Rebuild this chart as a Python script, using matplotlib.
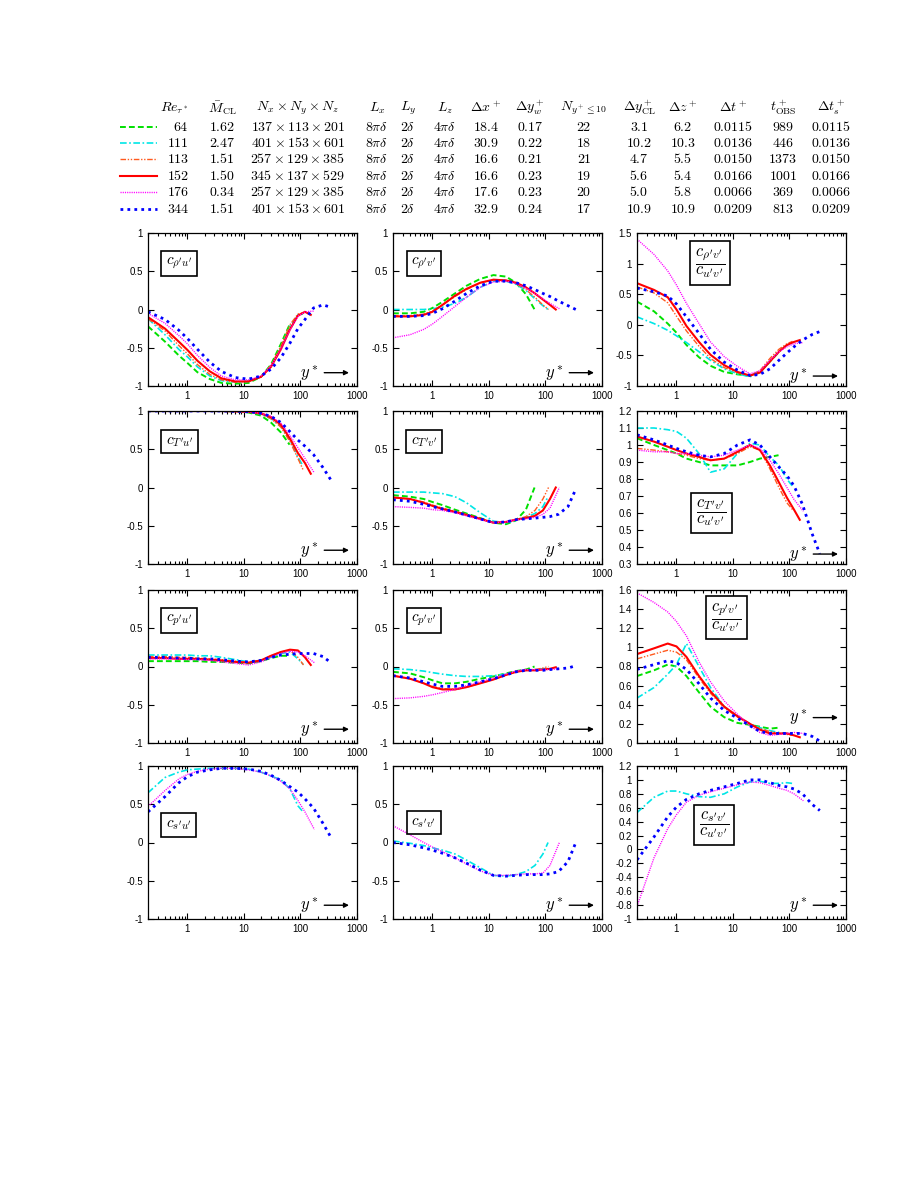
import matplotlib
matplotlib.use('Agg')
import matplotlib.pyplot as plt
from matplotlib.ticker import FuncFormatter, MultipleLocator, LogLocator, NullFormatter

plt.rcParams['mathtext.fontset'] = 'cm'
plt.rcParams['font.family'] = ['Liberation Sans', 'DejaVu Sans']
plt.rcParams['axes.unicode_minus'] = False

# y* sample points for each case (last point = Re_tau*)
x64 = [0.2, 0.4, 0.7, 1, 1.5, 2.5, 4, 7, 12, 20, 30, 45, 64]
x111 = [0.2, 0.4, 0.7, 1, 1.5, 2.5, 4, 7, 12, 20, 30, 45, 65, 90, 111]
x113 = [0.2, 0.4, 0.7, 1, 1.5, 2.5, 4, 7, 12, 20, 30, 45, 65, 90, 113]
x152 = [0.2, 0.4, 0.7, 1, 1.5, 2.5, 4, 7, 12, 20, 30, 45, 65, 90, 120, 152]
x176 = [0.2, 0.4, 0.7, 1, 1.5, 2.5, 4, 7, 12, 20, 30, 45, 65, 90, 120, 176]
x344 = [0.2, 0.4, 0.7, 1, 1.5, 2.5, 4, 7, 12, 20, 30, 45, 65, 90, 120, 170, 250, 344]
xs = [x64, x111, x113, x152, x176, x344]

# table
re_tau = ['64', '111', '113', '152', '176', '344']
m_cl = ['1.62', '2.47', '1.51', '1.50', '0.34', '1.51']
grid = [r'137\times113\times201', r'401\times153\times601', r'257\times129\times385',
        r'345\times137\times529', r'257\times129\times385', r'401\times153\times601']
dx = ['18.4', '30.9', '16.6', '16.6', '17.6', '32.9']
dyw = ['0.17', '0.22', '0.21', '0.23', '0.23', '0.24']
ny10 = ['22', '18', '21', '19', '20', '17']
dycl = ['3.1', '10.2', '4.7', '5.6', '5.0', '10.9']
dz = ['6.2', '10.3', '5.5', '5.4', '5.8', '10.9']
dt = ['0.0115', '0.0136', '0.0150', '0.0166', '0.0066', '0.0209']
tobs = ['989', '446', '1373', '1001', '369', '813']
dts = ['0.0115', '0.0136', '0.0150', '0.0166', '0.0066', '0.0209']

# correlation curves, order: 64, 111, 113, 152, 176, 344
rho_u = [
    [-0.22, -0.42, -0.6, -0.7, -0.82, -0.91, -0.96, -0.97, -0.96, -0.88, -0.72, -0.45, -0.2],
    [-0.12, -0.33, -0.52, -0.62, -0.75, -0.87, -0.93, -0.95, -0.94, -0.88, -0.74, -0.5, -0.22, -0.07, -0.06],
    [-0.12, -0.28, -0.47, -0.58, -0.72, -0.85, -0.92, -0.95, -0.94, -0.88, -0.73, -0.48, -0.2, -0.06, -0.04],
    [-0.1, -0.25, -0.42, -0.53, -0.67, -0.81, -0.9, -0.94, -0.94, -0.88, -0.75, -0.52, -0.26, -0.08, -0.03, -0.07],
    [-0.05, -0.18, -0.34, -0.45, -0.6, -0.76, -0.87, -0.92, -0.92, -0.87, -0.74, -0.52, -0.27, -0.09, -0.03, -0.02],
    [-0.03, -0.13, -0.27, -0.38, -0.52, -0.69, -0.81, -0.89, -0.91, -0.87, -0.78, -0.63, -0.44, -0.25, -0.13, 0.02, 0.06, 0.03],
]
rho_v = [
    [-0.05, -0.05, -0.03, 0.02, 0.1, 0.21, 0.31, 0.4, 0.45, 0.43, 0.35, 0.2, 0.0],
    [0.0, 0.0, 0.0, 0.01, 0.03, 0.08, 0.16, 0.29, 0.37, 0.37, 0.33, 0.25, 0.14, 0.05, 0.0],
    [-0.08, -0.08, -0.06, -0.02, 0.06, 0.17, 0.26, 0.35, 0.39, 0.38, 0.34, 0.26, 0.16, 0.06, 0.0],
    [-0.09, -0.09, -0.07, -0.03, 0.06, 0.18, 0.27, 0.35, 0.39, 0.38, 0.35, 0.29, 0.21, 0.13, 0.06, 0.0],
    [-0.37, -0.33, -0.26, -0.19, -0.09, 0.04, 0.16, 0.29, 0.36, 0.37, 0.34, 0.28, 0.21, 0.14, 0.08, 0.01],
    [-0.09, -0.09, -0.08, -0.05, 0.01, 0.11, 0.21, 0.31, 0.37, 0.37, 0.35, 0.31, 0.26, 0.21, 0.17, 0.11, 0.05, 0.0],
]
rho_v_r = [
    [0.38, 0.22, 0.02, -0.13, -0.33, -0.53, -0.67, -0.77, -0.81, -0.83, -0.77, -0.6, -0.45],
    [0.13, 0.02, -0.09, -0.18, -0.29, -0.44, -0.58, -0.72, -0.8, -0.85, -0.78, -0.6, -0.44, -0.33, -0.3],
    [0.62, 0.52, 0.36, 0.14, -0.1, -0.35, -0.55, -0.7, -0.78, -0.83, -0.75, -0.55, -0.4, -0.31, -0.27],
    [0.68, 0.57, 0.45, 0.25, -0.02, -0.28, -0.49, -0.66, -0.77, -0.83, -0.78, -0.6, -0.44, -0.33, -0.28, -0.25],
    [1.4, 1.15, 0.88, 0.65, 0.35, 0.02, -0.28, -0.52, -0.68, -0.8, -0.75, -0.58, -0.44, -0.36, -0.31, -0.29],
    [0.6, 0.54, 0.47, 0.34, 0.13, -0.14, -0.4, -0.61, -0.74, -0.83, -0.81, -0.72, -0.58, -0.46, -0.36, -0.25, -0.16, -0.11],
]
T_u = [
    [1, 1, 1, 1, 1, 1, 1, 0.995, 0.98, 0.94, 0.85, 0.72, 0.56],
    [1, 1, 1, 1, 1, 1, 1, 0.995, 0.99, 0.96, 0.9, 0.8, 0.62, 0.4, 0.28],
    [1, 1, 1, 1, 1, 1, 1, 0.995, 0.99, 0.96, 0.9, 0.79, 0.6, 0.38, 0.22],
    [1, 1, 1, 1, 1, 1, 1, 0.995, 0.99, 0.97, 0.92, 0.82, 0.64, 0.45, 0.32, 0.18],
    [1, 1, 1, 1, 1, 1, 1, 0.995, 0.99, 0.97, 0.93, 0.84, 0.68, 0.52, 0.38, 0.19],
    [1, 1, 1, 1, 1, 1, 1, 0.995, 0.99, 0.97, 0.93, 0.85, 0.73, 0.62, 0.54, 0.43, 0.26, 0.1],
]
T_v = [
    [-0.1, -0.12, -0.15, -0.19, -0.23, -0.29, -0.34, -0.4, -0.46, -0.48, -0.43, -0.29, 0.0],
    [-0.06, -0.06, -0.06, -0.07, -0.08, -0.12, -0.2, -0.33, -0.44, -0.46, -0.43, -0.39, -0.34, -0.25, -0.12],
    [-0.13, -0.15, -0.19, -0.23, -0.27, -0.31, -0.35, -0.41, -0.46, -0.45, -0.42, -0.38, -0.3, -0.15, 0.0],
    [-0.13, -0.15, -0.2, -0.24, -0.28, -0.32, -0.36, -0.41, -0.46, -0.45, -0.42, -0.4, -0.37, -0.3, -0.15, 0.0],
    [-0.25, -0.26, -0.27, -0.29, -0.3, -0.33, -0.37, -0.42, -0.46, -0.45, -0.42, -0.41, -0.39, -0.35, -0.27, 0.0],
    [-0.16, -0.18, -0.22, -0.25, -0.28, -0.32, -0.36, -0.41, -0.46, -0.45, -0.42, -0.41, -0.4, -0.39, -0.38, -0.35, -0.25, -0.02],
]
T_v_r = [
    [1.04, 1.0, 0.97, 0.95, 0.92, 0.9, 0.88, 0.88, 0.88, 0.9, 0.92, 0.93, 0.94],
    [1.1, 1.1, 1.09, 1.08, 1.04, 0.95, 0.84, 0.86, 0.95, 1.01, 1.0, 0.93, 0.88, 0.8, 0.76],
    [0.98, 0.97, 0.96, 0.95, 0.94, 0.92, 0.91, 0.92, 0.95, 0.99, 0.97, 0.86, 0.75, 0.66, 0.62],
    [1.05, 1.02, 0.99, 0.97, 0.95, 0.93, 0.91, 0.92, 0.96, 1.0, 0.97, 0.88, 0.78, 0.69, 0.62, 0.56],
    [0.97, 0.96, 0.96, 0.95, 0.95, 0.94, 0.93, 0.94, 0.97, 1.0, 0.98, 0.91, 0.83, 0.75, 0.68, 0.61],
    [1.06, 1.03, 1.0, 0.98, 0.96, 0.94, 0.93, 0.95, 1.0, 1.03, 1.0, 0.93, 0.87, 0.82, 0.76, 0.65, 0.48, 0.36],
]
p_u = [
    [0.07, 0.07, 0.07, 0.07, 0.07, 0.06, 0.06, 0.05, 0.04, 0.07, 0.11, 0.14, 0.14],
    [0.15, 0.15, 0.15, 0.15, 0.14, 0.14, 0.12, 0.09, 0.06, 0.08, 0.12, 0.17, 0.19, 0.1, 0.03],
    [0.13, 0.13, 0.12, 0.12, 0.11, 0.1, 0.09, 0.07, 0.05, 0.08, 0.14, 0.19, 0.21, 0.12, 0.02],
    [0.11, 0.11, 0.1, 0.1, 0.1, 0.09, 0.08, 0.06, 0.05, 0.08, 0.14, 0.19, 0.22, 0.21, 0.12, 0.02],
    [0.1, 0.1, 0.1, 0.09, 0.09, 0.08, 0.06, 0.04, 0.02, 0.06, 0.12, 0.17, 0.2, 0.19, 0.14, 0.05],
    [0.12, 0.12, 0.11, 0.11, 0.1, 0.1, 0.09, 0.07, 0.06, 0.08, 0.12, 0.15, 0.16, 0.17, 0.17, 0.17, 0.13, 0.05],
]
p_v = [
    [-0.07, -0.09, -0.14, -0.18, -0.22, -0.22, -0.2, -0.16, -0.13, -0.09, -0.06, -0.04, 0.0],
    [-0.03, -0.04, -0.06, -0.08, -0.1, -0.12, -0.13, -0.13, -0.12, -0.1, -0.07, -0.05, -0.04, -0.03, -0.02],
    [-0.12, -0.16, -0.22, -0.26, -0.29, -0.3, -0.27, -0.22, -0.17, -0.11, -0.07, -0.05, -0.04, -0.02, 0.0],
    [-0.12, -0.16, -0.22, -0.27, -0.3, -0.3, -0.27, -0.22, -0.17, -0.11, -0.07, -0.05, -0.05, -0.04, -0.03, -0.01],
    [-0.42, -0.41, -0.39, -0.37, -0.34, -0.3, -0.25, -0.2, -0.15, -0.1, -0.06, -0.04, -0.04, -0.04, -0.04, -0.03],
    [-0.12, -0.15, -0.2, -0.23, -0.26, -0.26, -0.24, -0.2, -0.16, -0.11, -0.07, -0.05, -0.05, -0.05, -0.04, -0.03, -0.02, 0.01],
]
p_v_r = [
    [0.7, 0.76, 0.82, 0.8, 0.7, 0.53, 0.38, 0.27, 0.21, 0.19, 0.17, 0.15, 0.16],
    [0.47, 0.58, 0.72, 0.82, 1.04, 0.8, 0.58, 0.38, 0.28, 0.2, 0.16, 0.13, 0.11, 0.1, 0.1],
    [0.88, 0.93, 0.97, 0.95, 0.87, 0.68, 0.52, 0.37, 0.27, 0.2, 0.15, 0.12, 0.1, 0.09, 0.08],
    [0.93, 0.99, 1.04, 1.01, 0.9, 0.7, 0.54, 0.38, 0.28, 0.2, 0.14, 0.1, 0.1, 0.1, 0.08, 0.06],
    [1.57, 1.47, 1.37, 1.27, 1.12, 0.85, 0.64, 0.44, 0.3, 0.18, 0.11, 0.08, 0.09, 0.1, 0.11, 0.1],
    [0.77, 0.82, 0.86, 0.84, 0.77, 0.62, 0.47, 0.34, 0.26, 0.18, 0.12, 0.1, 0.1, 0.1, 0.1, 0.1, 0.07, 0.02],
]
# passive scalar only for 111, 176, 344
s_u = [
    None,
    [0.65, 0.85, 0.92, 0.95, 0.96, 0.97, 0.97, 0.97, 0.96, 0.92, 0.87, 0.82, 0.7, 0.48, 0.4],
    None,
    None,
    [0.47, 0.68, 0.83, 0.89, 0.93, 0.96, 0.97, 0.97, 0.95, 0.92, 0.87, 0.8, 0.7, 0.55, 0.4, 0.17],
    [0.4, 0.6, 0.78, 0.86, 0.92, 0.95, 0.97, 0.97, 0.96, 0.93, 0.88, 0.81, 0.73, 0.66, 0.57, 0.45, 0.25, 0.07],
]
s_v = [
    None,
    [0.02, -0.01, -0.04, -0.07, -0.1, -0.15, -0.23, -0.33, -0.43, -0.44, -0.42, -0.38, -0.3, -0.15, 0.0],
    None,
    None,
    [0.22, 0.1, 0.0, -0.06, -0.12, -0.2, -0.28, -0.37, -0.43, -0.43, -0.42, -0.41, -0.41, -0.4, -0.3, 0.0],
    [0.0, -0.03, -0.07, -0.1, -0.14, -0.2, -0.27, -0.36, -0.43, -0.44, -0.43, -0.42, -0.42, -0.42, -0.41, -0.38, -0.25, 0.0],
]
s_v_r = [
    None,
    [0.53, 0.75, 0.84, 0.84, 0.8, 0.76, 0.75, 0.8, 0.9, 0.97, 0.98, 0.95, 0.95, 0.96, 0.95],
    None,
    None,
    [-0.82, -0.12, 0.3, 0.5, 0.68, 0.78, 0.83, 0.88, 0.93, 0.97, 0.96, 0.92, 0.88, 0.85, 0.8, 0.7],
    [-0.15, 0.18, 0.47, 0.61, 0.72, 0.8, 0.85, 0.9, 0.95, 1.0, 1.0, 0.96, 0.92, 0.9, 0.87, 0.8, 0.65, 0.56],
]

styles = [
    dict(color='#00e000', ls=(0, (3, 1.6)), lw=1.4),
    dict(color='#00e6e6', ls=(0, (4, 1.5, 1, 1.5)), lw=1.2),
    dict(color='#ff5a1e', ls=(0, (4, 1.2, 1, 1.2, 1, 1.2)), lw=1.0),
    dict(color='#ff0000', ls='-', lw=1.5),
    dict(color='#ff00ff', ls=(0, (0.8, 0.8)), lw=1.0),
    dict(color='#0000ff', ls=(0, (1, 1.5)), lw=2.0),
]

W, H = 910, 1177
fig = plt.figure(figsize=(W / 100, H / 100), dpi=100)


def fy(y):
    return 1 - y / H


# ---- table at the top ----
cols = [174, 222, 298, 377, 408, 445, 486, 530, 584, 639, 683, 733, 783, 831]
heads = [r'$Re_{\tau^\ast}$', r'$\bar{M}_{\rm CL}$', r'$N_x\times N_y\times N_z$', r'$L_x$', r'$L_y$',
         r'$L_z$', r'$\Delta x^+$', r'$\Delta y_w^+$', r'$N_{y^+\leq 10}$', r'$\Delta y^+_{\rm CL}$',
         r'$\Delta z^+$', r'$\Delta t^+$', r'$t^+_{\rm OBS}$', r'$\Delta t_s^+$']
for c, h in zip(cols, heads):
    fig.text(c / W, fy(108), h, ha='center', va='center', fontsize=10)

row_y = [127, 143, 159, 176, 192, 209]
for i in range(6):
    y = fy(row_y[i])
    fig.add_artist(plt.Line2D([120 / W, 157 / W], [y, y], transform=fig.transFigure, **styles[i]))
    vals = [re_tau[i], m_cl[i], grid[i], r'8\pi\delta', r'2\delta', r'4\pi\delta', dx[i], dyw[i],
            ny10[i], dycl[i], dz[i], dt[i], tobs[i], dts[i]]
    for j, v in enumerate(vals):
        if j == 0:
            fig.text(189 / W, y, '$' + v + '$', ha='right', va='center', fontsize=10)
        else:
            fig.text(cols[j] / W, y, '$' + v + '$', ha='center', va='center', fontsize=10)

# ---- panels ----
lefts = [148, 393, 637]
tops = [233, 411, 590, 766]
pw, ph = 209, 153

fr = r'$\dfrac{c_{%s^\prime v^\prime}}{c_{u^\prime v^\prime}}$'
panels = [
    (0, 0, r'$c_{\rho^\prime u^\prime}$', rho_u, (-1, 1), 0.5, (0.148, 0.80), 0.087),
    (0, 1, r'$c_{\rho^\prime v^\prime}$', rho_v, (-1, 1), 0.5, (0.148, 0.80), 0.087),
    (0, 2, fr % r'\rho', rho_v_r, (-1, 1.5), 0.5, (0.35, 0.805), 0.065),
    (1, 0, r'$c_{T^\prime u^\prime}$', T_u, (-1, 1), 0.5, (0.15, 0.80), 0.09),
    (1, 1, r'$c_{T^\prime v^\prime}$', T_v, (-1, 1), 0.5, (0.148, 0.80), 0.09),
    (1, 2, fr % 'T', T_v_r, (0.3, 1.2), 0.1, (0.357, 0.333), 0.065),
    (2, 0, r'$c_{p^\prime u^\prime}$', p_u, (-1, 1), 0.5, (0.148, 0.80), 0.09),
    (2, 1, r'$c_{p^\prime v^\prime}$', p_v, (-1, 1), 0.5, (0.148, 0.80), 0.09),
    (2, 2, fr % 'p', p_v_r, (0, 1.6), 0.2, (0.428, 0.82), 0.166),
    (3, 0, r'$c_{s^\prime u^\prime}$', s_u, (-1, 1), 0.5, (0.148, 0.614), 0.09),
    (3, 1, r'$c_{s^\prime v^\prime}$', s_v, (-1, 1), 0.5, (0.148, 0.63), 0.09),
    (3, 2, fr % 's', s_v_r, (-1, 1.2), 0.2, (0.368, 0.614), 0.09),
]

for r, c, lab, data, ylim, step, bpos, ay in panels:
    ax = fig.add_axes([lefts[c] / W, fy(tops[r] + ph), pw / W, ph / H])
    for i in range(6):
        if data[i] is not None:
            ax.plot(xs[i], data[i], **styles[i])
    ax.set_xscale('log')
    ax.set_xlim(0.2, 1000)
    ax.set_ylim(*ylim)
    ax.set_xticks([1, 10, 100, 1000])
    ax.xaxis.set_minor_locator(LogLocator(base=10, subs=range(2, 10), numticks=20))
    ax.xaxis.set_minor_formatter(NullFormatter())
    ax.xaxis.set_major_formatter(FuncFormatter(lambda v, p: '%g' % v))
    ax.yaxis.set_major_locator(MultipleLocator(step))
    ax.yaxis.set_major_formatter(FuncFormatter(lambda v, p: '%g' % round(v, 6)))
    ax.tick_params(which='both', direction='in', top=True, right=True, labelsize=7, width=0.8)
    ax.tick_params(which='major', length=4)
    ax.tick_params(which='minor', length=2)
    for s in ax.spines.values():
        s.set_linewidth(0.9)
    fs = 12 if c == 2 else 11
    ax.text(bpos[0], bpos[1], lab, transform=ax.transAxes, ha='center', va='center', fontsize=fs,
            bbox=dict(boxstyle='square,pad=0.3', fc='white', ec='black', lw=1.2))
    ax.text(0.815, ay, r'$y^\ast$', transform=ax.transAxes, ha='right', va='center', fontsize=12)
    ax.annotate('', xy=(0.975, ay), xytext=(0.83, ay), xycoords='axes fraction',
                arrowprops=dict(arrowstyle='-|>', lw=1.0, color='black', mutation_scale=7))

fig.savefig('out.png', dpi=100)
